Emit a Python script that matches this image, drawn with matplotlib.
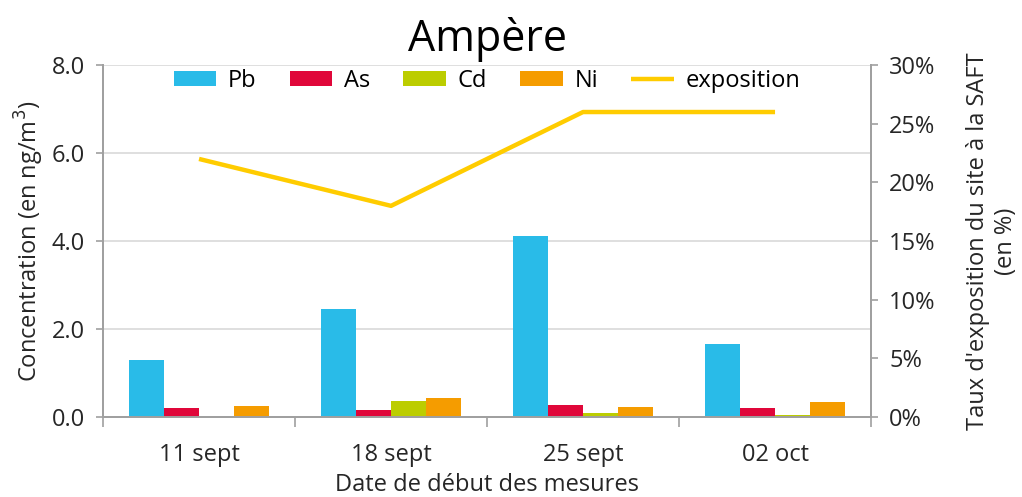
import numpy as np
import matplotlib.pyplot as plt
from matplotlib.ticker import FuncFormatter

plt.rcParams['font.family'] = ['Open Sans', 'DejaVu Sans']

dates = ["11 sept", "18 sept", "25 sept", "02 oct"]
pb = [1.30, 2.45, 4.12, 1.67]
as_ = [0.20, 0.15, 0.28, 0.20]
cd = [0.0, 0.36, 0.08, 0.05]
ni = [0.26, 0.43, 0.23, 0.33]
exposition = [22, 18, 26, 26]

colors = {'Pb': '#29BBE8', 'As': '#E0073A', 'Cd': '#BCCD00', 'Ni': '#F59C00'}
series = [('Pb', pb), ('As', as_), ('Cd', cd), ('Ni', ni)]
txt = '#262626'
fs = 17

fig = plt.figure(figsize=(10.22, 4.97), dpi=100)
ax = fig.add_axes([0.1008, 0.161, 0.7515, 0.708])
ax2 = ax.twinx()

x = np.arange(len(dates))
w = 0.182
handles = []
for i, (name, vals) in enumerate(series):
    b = ax.bar(x + (i - 1.5) * w, vals, w, color=colors[name], label=name, zorder=3)
    handles.append(b)

line, = ax2.plot(x, exposition, color='#FFCC00', lw=3.2, label='exposition', solid_capstyle='butt')
handles.append(line)

ax.set_xlim(-0.5, len(dates) - 0.5)
ax.set_ylim(0, 8)
ax.set_yticks([0, 2, 4, 6, 8])
ax.yaxis.set_major_formatter(FuncFormatter(lambda v, p: f"{v:.1f}"))
ax2.set_ylim(0, 30)
ax2.set_yticks(range(0, 31, 5))
ax2.yaxis.set_major_formatter(FuncFormatter(lambda v, p: f"{v:.0f}%"))

ax.set_xticks(x)
ax.set_xticklabels(dates)
ax.set_xticks(np.arange(-0.5, len(dates), 1), minor=True)
ax.tick_params(axis='x', which='major', length=0, pad=19, labelsize=fs, colors=txt)
ax.tick_params(axis='x', which='minor', length=7, width=1.2, color='#a0a0a0')
ax.tick_params(axis='y', length=5, width=1.2, color='#a0a0a0', labelsize=fs, labelcolor=txt, pad=8)
ax2.tick_params(axis='y', length=5, width=1.2, color='#a0a0a0', labelsize=fs, labelcolor=txt, pad=8)

ax.grid(axis='y', color='#d9d9d9', lw=1.2, zorder=0)
for a in (ax, ax2):
    a.spines['top'].set_visible(False)
    for s in ('left', 'right', 'bottom'):
        a.spines[s].set_color('#a0a0a0')
        a.spines[s].set_linewidth(1.4)

ax.set_ylabel("Concentration (en ng/m$^3$)", fontsize=fs, color=txt, labelpad=4)
ax2.set_ylabel("Taux d'exposition du site à la SAFT\n(en %)", fontsize=fs, color=txt, labelpad=22)
ax.set_xlabel("Date de début des mesures", fontsize=fs, color=txt, labelpad=4)
ax.set_title("Ampère", fontsize=31, color='#000000', pad=10)

ax2.legend(handles, ['Pb', 'As', 'Cd', 'Ni', 'exposition'], loc='upper center',
           bbox_to_anchor=(0.5, 1.05), ncol=5, frameon=False, fontsize=fs,
           handlelength=1.8, handleheight=0.55, columnspacing=1.4, handletextpad=0.5)

fig.savefig('out.png', dpi=100)
